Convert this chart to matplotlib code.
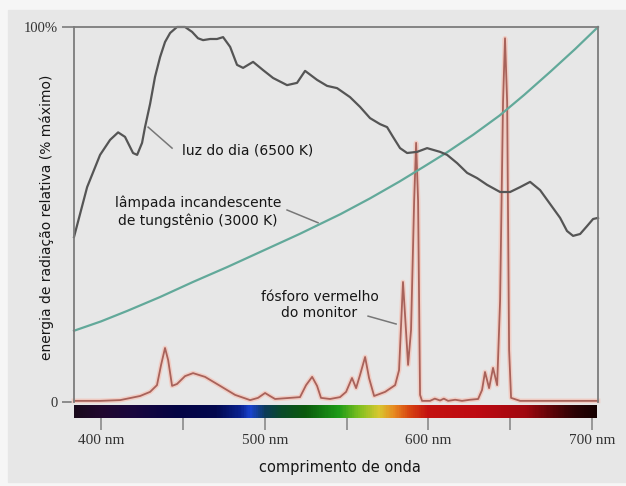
import matplotlib
matplotlib.use("Agg")
import numpy as np
from matplotlib import pyplot as plt
from matplotlib.colors import LinearSegmentedColormap
from matplotlib.patches import Rectangle

# daylight (6500 K), relative energy in % of maximum
day_nm = [383.5, 391.5, 399.4, 405.5, 410.4, 414.6, 419.5, 422.0, 425.0, 426.8,
          429.9, 432.9, 436.0, 439.0, 442.1, 446.3, 451.2, 455.5, 459.1, 462.2,
          466.5, 470.7, 474.4, 478.7, 482.9, 486.6, 492.7, 498.8, 504.9, 513.4,
          519.5, 524.4, 531.7, 537.8, 543.9, 551.8, 557.9, 564.0, 570.1, 574.4,
          578.0, 582.3, 586.6, 592.7, 598.8, 606.7, 611.0, 617.1, 623.2, 629.3,
          635.4, 643.3, 649.4, 655.5, 661.6, 667.7, 673.8, 679.9, 684.1, 687.8,
          692.1, 696.3, 700.0, 703.0]
day_val = [44.0, 57.3, 65.9, 69.9, 71.9, 70.7, 66.4, 65.9, 69.1, 73.3,
           79.5, 86.7, 92.0, 96.0, 98.4, 100.0, 100.0, 98.7, 97.0, 96.5,
           96.8, 96.8, 97.3, 94.7, 89.9, 89.1, 90.7, 88.5, 86.4, 84.5,
           85.1, 88.3, 85.9, 84.3, 83.7, 81.3, 78.7, 75.7, 74.1, 73.3,
           70.7, 67.7, 66.4, 66.7, 67.7, 66.7, 65.9, 63.7, 61.1, 59.7,
           57.9, 56.0, 56.0, 57.3, 58.7, 56.5, 52.8, 49.1, 45.6, 44.3,
           44.8, 46.9, 48.8, 49.1]

# tungsten incandescent lamp (3000 K)
tung_nm = [383.5, 400, 416, 436, 456, 477, 497, 521, 546, 564, 582, 597, 611,
           627, 643, 658, 674, 689, 703]
tung_val = [19.0, 21.5, 24.3, 28.0, 32.0, 36.0, 40.0, 44.8, 50.1, 54.3, 58.8,
            62.8, 66.6, 71.3, 76.4, 81.9, 88.1, 94.1, 100.0]

# red monitor phosphor
phos_nm = [383.5, 399.4, 411.6, 423.8, 429.9, 434.1, 436.6, 439.0, 440.9, 443.3,
           446.3, 451.2, 456.1, 463.4, 472.6, 481.7, 490.9, 495.7, 500.0, 503.0,
           506.1, 515.2, 521.3, 525.0, 528.7, 531.7, 534.1, 539.6, 545.7, 549.4,
           553.0, 555.5, 557.9, 561.0, 563.4, 566.5, 573.2, 579.3, 581.7, 584.1,
           585.9, 587.2, 589.0, 590.9, 592.1, 593.3, 594.5, 595.7, 600.6, 603.5,
           606.7, 609.0, 611.6, 615.9, 620.1, 625.0, 629.9, 632.3, 634.1, 636.6,
           639.0, 641.5, 643.3, 645.1, 646.3, 647.6, 648.8, 650.0, 655.5, 703.0]
phos_val = [0.3, 0.3, 0.5, 1.6, 2.7, 4.5, 9.9, 14.4, 11.2, 4.3,
            4.8, 6.9, 7.7, 6.7, 4.3, 1.9, 0.5, 1.1, 2.4, 1.6,
            0.8, 1.1, 1.3, 4.5, 6.7, 4.3, 1.1, 0.8, 1.3, 2.7,
            6.4, 3.7, 7.2, 12.0, 6.4, 1.6, 2.7, 4.5, 8.5, 32.0,
            19.2, 9.9, 19.2, 53.6, 69.1, 53.6, 1.9, 0.3, 0.3, 0.9,
            0.4, 0.9, 0.3, 0.6, 0.3, 0.6, 0.8, 3.2, 8.0, 3.7,
            9.1, 4.5, 27.0, 80.0, 97.0, 80.0, 13.9, 1.1, 0.3, 0.3]

# visible spectrum strip
spec_nm = [383.5, 400, 420, 445, 470, 485, 491, 500, 510, 525, 545, 558, 570,
           579, 588, 600, 630, 660, 677, 690, 703]
spec_col = ['#1a0a1c', '#220830', '#18063e', '#040444', '#02084e', '#0a2290',
            '#1a44d0', '#0c3a5a', '#0a4a2a', '#0a5a0c', '#1c9a18', '#80c020',
            '#d8c830', '#e88a20', '#d84812', '#c41210', '#be0a12', '#a00810',
            '#5a0408', '#2c0204', '#160000']

ticks = [400, 450, 500, 550, 600, 650, 700]
tick_labels = ['400 nm', '', '500 nm', '', '600 nm', '', '700 nm']
xmin, xmax = 383.5, 703.0

fig = plt.figure(figsize=(6.26, 4.86), dpi=100, facecolor='#f6f6f6')
panel = Rectangle((8 / 626, 4 / 486), 1, 472 / 486, transform=fig.transFigure,
                  color='#e7e7e7', zorder=-10)
fig.add_artist(panel)

ax = fig.add_axes([74 / 626, 1 - 402 / 486, 524 / 626, 375 / 486])
ax.set_facecolor('#e7e7e7')
ax.set_xlim(xmin, xmax)
ax.set_ylim(0, 100)

ax.plot(phos_nm, phos_val, color='#f1cdc4', lw=3.4, solid_joinstyle='round', clip_on=False)
ax.plot(phos_nm, phos_val, color='#a8625a', lw=1.3, clip_on=False)
ax.plot(tung_nm, tung_val, color='#62a99a', lw=1.6, clip_on=False)
ax.plot(day_nm, day_val, color='#555555', lw=1.6, clip_on=False)

for s in ['left', 'top', 'right']:
    ax.spines[s].set_color('#7c7c7c')
    ax.spines[s].set_linewidth(1.3)
ax.spines['bottom'].set_visible(False)
ax.set_xticks([])
ax.set_yticks([0, 100])
ax.set_yticklabels(['0', '100%'], family='Liberation Serif', fontsize=10.5, color='#333333')
ax.tick_params(axis='y', length=8.5, width=1.2, color='#7c7c7c', pad=3)

txt = dict(family='DejaVu Sans', fontsize=10, color='#161616')
ax.text(449.4, 67.2, 'luz do dia (6500 K)', ha='left', va='center', **txt)
ax.plot([428.7, 443.3], [73.3, 67.7], color='#777777', lw=1.1)
ax.text(459.1, 50.7, 'lâmpada incandescente\nde tungstênio (3000 K)', ha='center',
        va='center', linespacing=1.25, **txt)
ax.plot([513.4, 532.3], [51.2, 47.8], color='#777777', lw=1.1)
ax.text(533.2, 25.9, 'fósforo vermelho\ndo monitor', ha='center', va='center',
        linespacing=1.25, **txt)
ax.plot([562.8, 579.9], [22.9, 20.8], color='#777777', lw=1.1)

# spectrum strip under the zero line
bar = fig.add_axes([74 / 626, 1 - 418 / 486, 523 / 626, 13 / 486])
pos = [(v - xmin) / (xmax - xmin) for v in spec_nm]
cmap = LinearSegmentedColormap.from_list('spec', list(zip(pos, spec_col)))
bar.imshow(np.linspace(0, 1, 600)[None, :], aspect='auto', cmap=cmap,
           extent=[xmin, xmax, 0, 1])
bar.set_xlim(xmin, xmax)
for s in bar.spines.values():
    s.set_visible(False)
bar.set_yticks([])
bar.set_xticks(ticks)
bar.set_xticklabels(tick_labels, family='Liberation Serif', fontsize=11, color='#333333')
bar.tick_params(axis='x', length=8.5, width=1.2, color='#8a8a8a', pad=3)

fig.text(340 / 626, 1 - 467 / 486, 'comprimento de onda', ha='center', va='center',
         family='DejaVu Sans', fontsize=10.5, color='#161616')
fig.text(47 / 626, 1 - 217 / 486, 'energia de radiação relativa (% máximo)', rotation=90,
         ha='center', va='center', family='DejaVu Sans', fontsize=10, color='#161616')

fig.savefig('out.png', dpi=100, facecolor=fig.get_facecolor())
